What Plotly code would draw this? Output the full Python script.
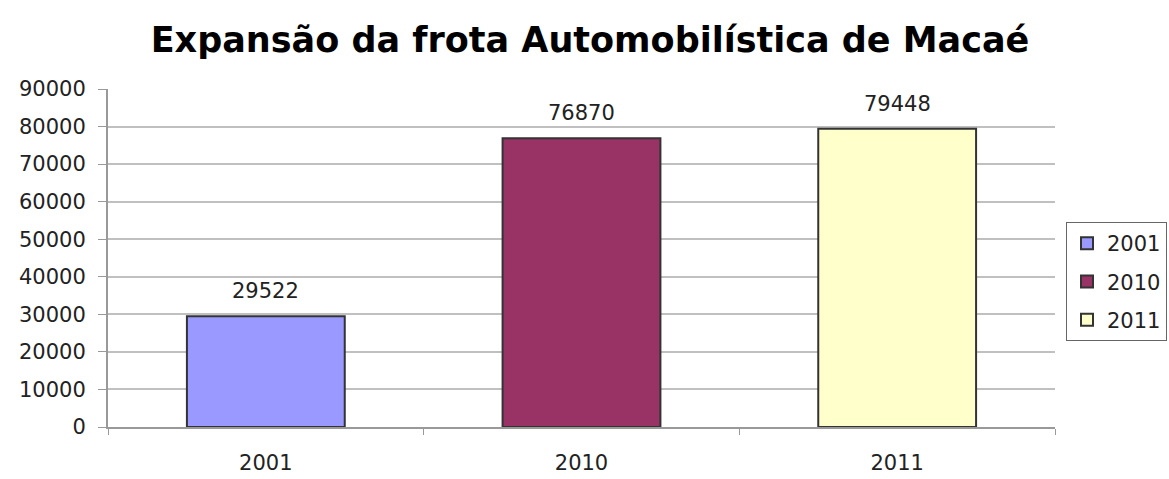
import plotly.graph_objects as go

# Frota de veículos de Macaé por ano
anos = ["2001", "2010", "2011"]
veiculos = [29522, 76870, 79448]
cores = ["#9999FF", "#993366", "#FFFFCC"]

y_ticks = list(range(0, 90001, 10000))

FONTE = "DejaVu Sans, Liberation Sans, Arial"

fig = go.Figure()
for i, (ano, valor, cor) in enumerate(zip(anos, veiculos, cores)):
    fig.add_trace(go.Bar(
        x=[ano], y=[valor], name=ano, legendgroup=ano,
        marker=dict(color=cor, line=dict(color="#333333", width=2)),
        width=0.5,
    ))
    # rótulo de valor acima da barra (posição pelo índice da categoria)
    fig.add_annotation(
        x=i, y=valor, text=str(valor), showarrow=False,
        yanchor="bottom", yshift=11,
        font=dict(family=FONTE, size=21, color="#222222"),
    )

fig.update_layout(
    width=1169, height=479,
    margin=dict(l=108, r=114, t=89, b=52, autoexpand=False),
    paper_bgcolor="white", plot_bgcolor="white",
    barmode="overlay",
    title=dict(
        text="<b>Expansão da frota Automobilística de Macaé</b>",
        x=590 / 1169, xanchor="center", xref="container", y=0.917, yanchor="middle",
        font=dict(family=FONTE, size=35, color="#000000"),
    ),
    font=dict(family=FONTE, size=21, color="#222222"),
    legend=dict(
        x=1066 / 1169, xref="container", xanchor="left",
        y=1 - 222 / 479, yref="container", yanchor="top",
        bordercolor="#666666", borderwidth=1, bgcolor="white",
        font=dict(family=FONTE, size=21, color="#222222"),
        itemwidth=30, tracegroupgap=8, traceorder="grouped",
    ),
    showlegend=True,
)

fig.update_xaxes(
    type="category", categoryorder="array", categoryarray=anos,
    range=[-0.5, 2.5], automargin=False,
    showline=True, linecolor="#999999", linewidth=2,
    ticks="outside", tickson="boundaries", ticklen=6, tickcolor="#999999",
    ticklabelstandoff=16,
    tickfont=dict(family=FONTE, size=21, color="#222222"),
    showgrid=False,
)
fig.update_yaxes(
    range=[0, 90000], tickvals=y_ticks, ticktext=[str(v) for v in y_ticks],
    automargin=False,
    showline=True, linecolor="#999999", linewidth=2,
    ticks="outside", ticklen=8, tickcolor="#999999",
    ticklabelstandoff=8,
    showgrid=True, gridcolor="#C0C0C0", gridwidth=2,
    tickfont=dict(family=FONTE, size=21, color="#222222"),
    zeroline=False,
)

fig.write_html("out.html")
